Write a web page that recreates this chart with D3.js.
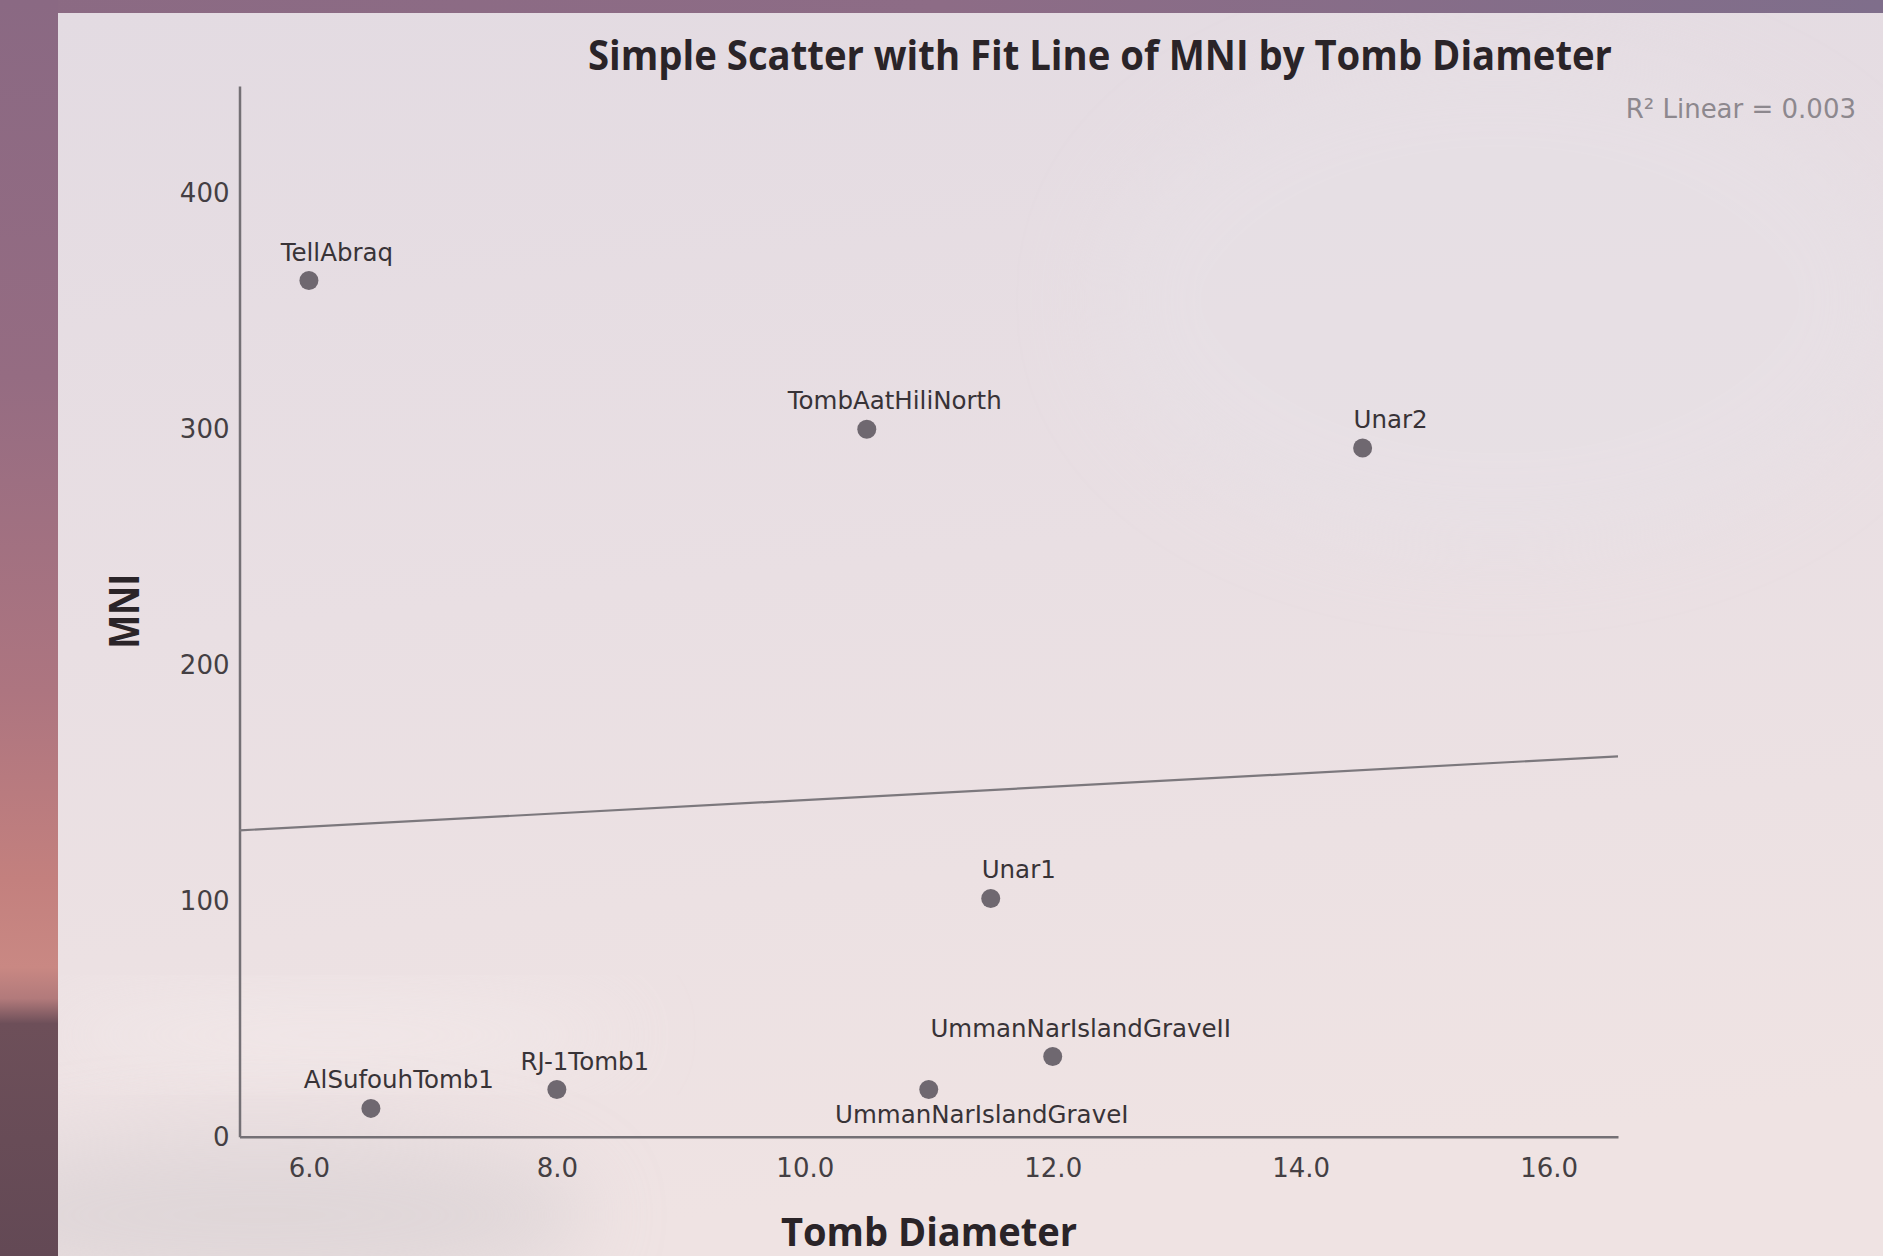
<!DOCTYPE html>
<html>
<head>
<meta charset="utf-8">
<script src="https://cdn.jsdelivr.net/npm/d3@7"></script>
<style>
  html, body { margin: 0; padding: 0; background: #8a6a82; }
  svg { display: block; }
</style>
</head>
<body>
<svg id="chart" width="1883" height="1256"></svg>
<script>
// Burial sites: tomb diameter (m) against minimum number of individuals
const sites = ["TellAbraq", "TombAatHiliNorth", "Unar2", "Unar1",
               "UmmanNarIslandGraveII", "UmmanNarIslandGraveI", "RJ-1Tomb1", "AlSufouhTomb1"];
const diameter = [6.0, 10.5, 14.5, 11.5, 12.0, 11.0, 8.0, 6.5];
const mni = [363, 300, 292, 101, 34, 20, 20, 12];

const xTicks = [6, 8, 10, 12, 14, 16];
const yTicks = [0, 100, 200, 300, 400];
const xDomain = [5.44, 16.56];
const yDomain = [0, 445.5];

const titleText = "Simple Scatter with Fit Line of MNI by Tomb Diameter";
const xTitle = "Tomb Diameter";
const yTitle = "MNI";

const svg = d3.select("#chart");
const defs = svg.append("defs");

// ---- window backdrop ----
const sideGrad = defs.append("linearGradient").attr("id", "side")
  .attr("x1", 0).attr("y1", 0).attr("x2", 0).attr("y2", 1);
[[0, "#8a6983"], [0.3, "#956c82"], [0.55, "#ad7580"], [0.7, "#c3807e"],
 [0.77, "#c98883"], [0.795, "#b27a7b"], [0.815, "#6d4f59"], [1, "#634955"]]
  .forEach(([o, c]) => sideGrad.append("stop").attr("offset", o).attr("stop-color", c));

const topGrad = defs.append("linearGradient").attr("id", "topband")
  .attr("x1", 0).attr("y1", 0).attr("x2", 1).attr("y2", 0);
[[0, "#8b6a83"], [0.5, "#8d6c86"], [1, "#7f6e8b"]]
  .forEach(([o, c]) => topGrad.append("stop").attr("offset", o).attr("stop-color", c));

const panelGrad = defs.append("linearGradient").attr("id", "panel")
  .attr("x1", 0).attr("y1", 0).attr("x2", 0.15).attr("y2", 1);
[[0, "#e3dbe2"], [0.5, "#e9dfe3"], [1, "#efe3e3"]]
  .forEach(([o, c]) => panelGrad.append("stop").attr("offset", o).attr("stop-color", c));

const soft = defs.append("filter").attr("id", "soft")
  .attr("x", "-50%").attr("y", "-50%").attr("width", "200%").attr("height", "200%");
soft.append("feGaussianBlur").attr("stdDeviation", 40);

svg.append("rect").attr("width", 1883).attr("height", 1256).attr("fill", "url(#topband)");
svg.append("rect").attr("x", 0).attr("y", 0).attr("width", 58).attr("height", 1256)
  .attr("fill", "url(#side)");

// chart panel with faint reflections of the desktop behind it
const panel = svg.append("g");
panel.append("rect").attr("x", 58).attr("y", 13).attr("width", 1825).attr("height", 1243)
  .attr("fill", "url(#panel)");
svg.append("clipPath").attr("id", "panelClip").append("rect")
  .attr("x", 58).attr("y", 13).attr("width", 1825).attr("height", 1243);
const glow = svg.append("g").attr("clip-path", "url(#panelClip)");
glow.append("ellipse").attr("cx", 260).attr("cy", 1215).attr("rx", 330).attr("ry", 80)
  .attr("fill", "#d6cfd2").attr("opacity", 0.6).attr("filter", "url(#soft)");
glow.append("ellipse").attr("cx", 330).attr("cy", 1035).attr("rx", 300).attr("ry", 30)
  .attr("fill", "#f6eeee").attr("opacity", 0.6).attr("filter", "url(#soft)");
glow.append("ellipse").attr("cx", 1500).attr("cy", 300).attr("rx", 400).attr("ry", 250)
  .attr("fill", "#e7e1e6").attr("opacity", 0.6).attr("filter", "url(#soft)");

// ---- scales ----
const x = d3.scaleLinear().domain(xDomain).range([239.5, 1618]);
const y = d3.scaleLinear().domain(yDomain).range([1136.7, 86]);

const tickFont = "'DejaVu Sans', Verdana, sans-serif";

// y axis
const yAxis = svg.append("g").attr("transform", `translate(${x(xDomain[0])},0)`)
  .call(d3.axisLeft(y).tickValues(yTicks).tickSize(0).tickPadding(10).tickFormat(d3.format("d")));
yAxis.select(".domain").attr("stroke", "#747075").attr("stroke-width", 2.5);
yAxis.selectAll("text").attr("font-family", tickFont).attr("font-size", 26).attr("fill", "#443f43");

// x axis
const xAxis = svg.append("g").attr("transform", `translate(0,${y(0)})`)
  .call(d3.axisBottom(x).tickValues(xTicks).tickSize(0).tickPadding(22).tickFormat(d3.format(".1f")));
xAxis.select(".domain").attr("stroke", "#747075").attr("stroke-width", 2.5);
xAxis.selectAll("text").attr("font-family", tickFont).attr("font-size", 26).attr("fill", "#443f43");

// ---- least-squares fit ----
const n = diameter.length;
const mx = d3.mean(diameter), my = d3.mean(mni);
let sxy = 0, sxx = 0, syy = 0;
for (let i = 0; i < n; i++) {
  sxy += (diameter[i] - mx) * (mni[i] - my);
  sxx += (diameter[i] - mx) ** 2;
  syy += (mni[i] - my) ** 2;
}
const slope = sxy / sxx;
const intercept = my - slope * mx;
const r2 = (sxy * sxy) / (sxx * syy);

svg.append("line")
  .attr("x1", x(xDomain[0])).attr("y1", y(intercept + slope * xDomain[0]))
  .attr("x2", x(xDomain[1])).attr("y2", y(intercept + slope * xDomain[1]))
  .attr("stroke", "#7c787d").attr("stroke-width", 2.2);

// ---- points and case labels ----
const rows = sites.map((s, i) => ({ site: s, d: diameter[i], m: mni[i] }));
const labelPlacement = { dx: 28, dy: -20 };
const labelOverride = { "UmmanNarIslandGraveI": { dx: 53, dy: 33.5 } };

svg.append("g").selectAll("circle").data(rows).join("circle")
  .attr("cx", r => x(r.d)).attr("cy", r => y(r.m)).attr("r", 9.5)
  .attr("fill", "#6f6870");

svg.append("g").selectAll("text").data(rows).join("text")
  .attr("x", r => x(r.d) + (labelOverride[r.site] || labelPlacement).dx)
  .attr("y", r => y(r.m) + (labelOverride[r.site] || labelPlacement).dy)
  .attr("text-anchor", "middle")
  .attr("font-family", tickFont).attr("font-size", 24.5).attr("fill", "#383337")
  .text(r => r.site);

// ---- titles ----
const titleFont = "'Open Sans', 'DejaVu Sans', sans-serif";
svg.append("text").attr("x", 588).attr("y", 70)
  .attr("font-family", titleFont).attr("font-weight", 700).attr("font-size", 42)
  .attr("fill", "#2a2428")
  .attr("textLength", 1024).attr("lengthAdjust", "spacingAndGlyphs")
  .text(titleText);

svg.append("text").attr("x", 781).attr("y", 1246)
  .attr("font-family", titleFont).attr("font-weight", 700).attr("font-size", 39)
  .attr("fill", "#2a2428")
  .attr("textLength", 296).attr("lengthAdjust", "spacingAndGlyphs")
  .text(xTitle);

svg.append("text")
  .attr("transform", `translate(139,${(y.range()[0] + y.range()[1]) / 2}) rotate(-90)`)
  .attr("text-anchor", "middle")
  .attr("font-family", titleFont).attr("font-weight", 700).attr("font-size", 42)
  .attr("fill", "#2a2428")
  .attr("textLength", 75).attr("lengthAdjust", "spacingAndGlyphs")
  .text(yTitle);

// R² annotation
svg.append("text").attr("x", 1856).attr("y", 118).attr("text-anchor", "end")
  .attr("font-family", tickFont).attr("font-size", 26).attr("fill", "#8d888e")
  .text(`R\u00B2 Linear = ${r2.toFixed(3)}`);
</script>
</body>
</html>
